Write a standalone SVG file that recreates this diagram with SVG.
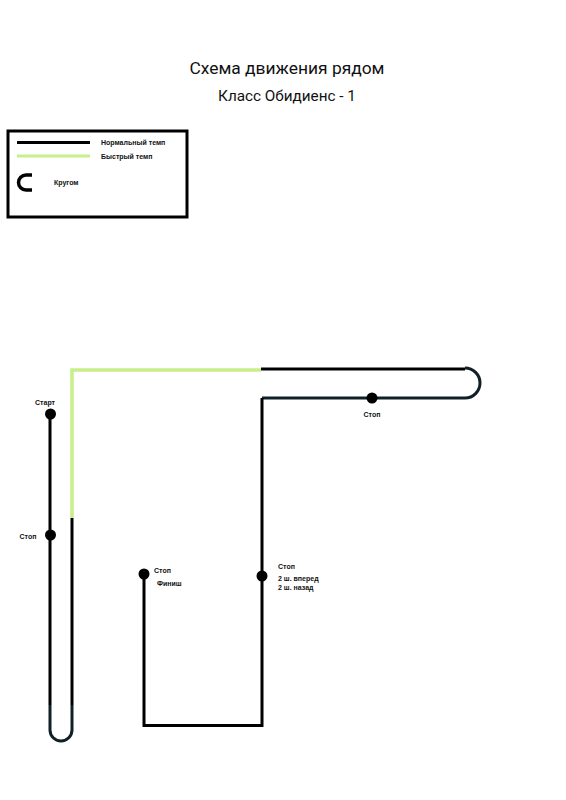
<svg xmlns="http://www.w3.org/2000/svg" width="566" height="800" viewBox="0 0 566 800">
<style>
.t{font-family:"Roboto","Liberation Sans",sans-serif;fill:#111}
.s{font-family:"Liberation Sans",Arial,sans-serif;font-weight:bold;font-size:7px;fill:#111}
.k{fill:none;stroke:#000;stroke-width:3}
.d{fill:none;stroke:#0f2126;stroke-width:3}
.g{fill:none;stroke:#c8ef8a;stroke-width:3.5}
.dot{fill:#000}
</style>
<rect width="566" height="800" fill="#fff"/>
<g id="title">
<text class="t" x="287" y="74" font-size="17.4" text-anchor="middle">Схема движения рядом</text>
<text class="t" x="287" y="101" font-size="15.3" text-anchor="middle">Класс Обидиенс - 1</text>
</g>
<g id="legend">
<rect x="8" y="131" width="179" height="86" fill="#fff" stroke="#000" stroke-width="3"/>
<line x1="17" y1="142.5" x2="90" y2="142.5" stroke="#000" stroke-width="3"/>
<line x1="17" y1="156" x2="90" y2="156" stroke="#c8ef8a" stroke-width="3"/>
<path d="M32,175 H26 A7.5,7.5 0 0 0 26,190 H32" fill="none" stroke="#000" stroke-width="3.5"/>
<text class="s" x="101" y="145">Нормальный темп</text>
<text class="s" x="101" y="159">Быстрый темп</text>
<text class="s" x="54" y="185">Кругом</text>
</g>
<g id="connectors">
<path class="k" d="M50,414 V705"/>
<path class="d" d="M50,705 V730 A11,11 0 0 0 72,730 V705"/>
<path class="k" d="M72,705 V518"/>
<path class="g" d="M72,518 V370 H261"/>
<path class="k" d="M261,369 H465"/>
<path class="d" d="M465,368 A15,15 0 0 1 465,398 H262"/>
<path class="k" d="M262,398 V725.5 H144 V574"/>
</g>
<g id="start">
<circle class="dot" cx="50.5" cy="414" r="5.5"/>
<text class="s" x="45" y="405" text-anchor="middle">Старт</text>
</g>
<g id="stop1">
<circle class="dot" cx="50.5" cy="535" r="5.5"/>
<text class="s" x="28" y="539" text-anchor="middle">Стоп</text>
</g>
<g id="stop2">
<circle class="dot" cx="372" cy="398" r="5.5"/>
<text class="s" x="372" y="417" text-anchor="middle">Стоп</text>
</g>
<g id="stop3">
<circle class="dot" cx="262" cy="576" r="5.5"/>
<text class="s" x="278" y="569">Стоп</text>
<text class="s" x="278" y="581">2 ш. вперед</text>
<text class="s" x="278" y="590">2 ш. назад</text>
</g>
<g id="finish">
<circle class="dot" cx="144" cy="574" r="5.5"/>
<text class="s" x="154" y="573">Стоп</text>
<text class="s" x="157" y="586">Финиш</text>
</g>
</svg>
